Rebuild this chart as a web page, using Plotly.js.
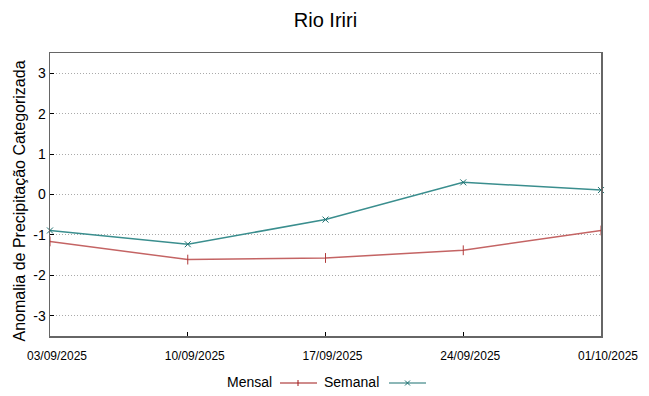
<!DOCTYPE html>
<html><head><meta charset="utf-8">
<script src="https://cdn.plot.ly/plotly-3.0.1.min.js"></script>
<style>html,body{margin:0;padding:0;background:#fff}#c{width:649px;height:396px}</style>
</head><body><div id="c"></div>
<script>
const dates = ['2025-09-03','2025-09-10','2025-09-17','2025-09-24','2025-10-01'];
const tickLabels = ['03/09/2025','10/09/2025','17/09/2025','24/09/2025','01/10/2025'];
const mensal = [-1.16,-1.61,-1.57,-1.38,-0.89];
const semanal = [-0.89,-1.23,-0.62,0.30,0.11];
const yTicks = [-3,-2,-1,0,1,2,3];
const yTickLabels = ['-3','-2','-1','0','1','2','3'];

const redC = '#c46464', tealC = '#3a8e8e';
const traces = [
  {x:dates,y:mensal,name:'Mensal',type:'scatter',mode:'lines+markers',
   line:{color:redC,width:1.5},marker:{symbol:'line-ns-open',size:7,color:'#b03a3a',line:{width:1,color:'#b03a3a'}},cliponaxis:false},
  {x:dates,y:semanal,name:'Semanal',type:'scatter',mode:'lines+markers',
   line:{color:tealC,width:1.5},marker:{symbol:'x-thin-open',size:6,color:'#1f7070',line:{width:1,color:'#1f7070'}},cliponaxis:false}
];
const font = 'Liberation Sans, Arial, sans-serif';
const layout = {
  width:649,height:396,
  margin:{l:50,r:48,t:53,b:60},
  paper_bgcolor:'#fff',plot_bgcolor:'#fff',
  showlegend:false,
  title:{text:'Rio Iriri',x:0.5015,xanchor:'center',y:0.95,yanchor:'middle',font:{family:font,size:20,color:'#000'}},
  xaxis:{type:'date',range:[dates[0],dates[dates.length-1]],tickvals:dates,ticktext:tickLabels,
    showgrid:false,zeroline:false,showline:true,linecolor:'#666',linewidth:1.5,mirror:true,
    ticks:'inside',ticklen:4,tickcolor:'#000',ticklabelstandoff:8,ticklabelshift:7,
    tickfont:{family:font,size:12,color:'#000'}},
  yaxis:{range:[-3.5,3.5],tickvals:yTicks,ticktext:yTickLabels,showgrid:true,gridcolor:'#aaa',griddash:'1px,2px',gridwidth:1,
    zeroline:false,showline:true,linecolor:'#666',linewidth:1.5,mirror:true,
    ticks:'inside',ticklen:4,tickcolor:'#000',
    tickfont:{family:font,size:14,color:'#000'}},
  annotations:[
    {xref:'paper',yref:'paper',x:(19-50)/551,y:(336-201.5)/283,xanchor:'center',yanchor:'middle',textangle:-90,
     text:'Anomalia de Precipitação Categorizada',showarrow:false,font:{family:font,size:16,color:'#000'}},
    {xref:'paper',yref:'paper',x:(274-50)/551,y:-(382-336)/283,xanchor:'right',yanchor:'middle',text:'Mensal',showarrow:false,font:{family:font,size:14,color:'#000'}},
    {xref:'paper',yref:'paper',x:(381-50)/551,y:-(382-336)/283,xanchor:'right',yanchor:'middle',text:'Semanal',showarrow:false,font:{family:font,size:14,color:'#000'}}
  ],
  shapes:[
    {type:'line',xref:'paper',yref:'paper',x0:(280-50)/551,x1:(317-50)/551,y0:-(383-336)/283,y1:-(383-336)/283,line:{color:'#a01818',width:1.2}},
    {type:'line',xref:'paper',yref:'paper',x0:(298-50)/551,x1:(298-50)/551,y0:-(380-336)/283,y1:-(386-336)/283,line:{color:'#a01818',width:1}},
    {type:'line',xref:'paper',yref:'paper',x0:(389-50)/551,x1:(426-50)/551,y0:-(383-336)/283,y1:-(383-336)/283,line:{color:'#1a7070',width:1.2}},
    {type:'line',xref:'paper',yref:'paper',x0:(405-50)/551,x1:(410-50)/551,y0:-(380.5-336)/283,y1:-(385.5-336)/283,line:{color:'#1a7070',width:1}},
    {type:'line',xref:'paper',yref:'paper',x0:(405-50)/551,x1:(410-50)/551,y0:-(385.5-336)/283,y1:-(380.5-336)/283,line:{color:'#1a7070',width:1}}
  ]
};
Plotly.newPlot('c',traces,layout,{displayModeBar:false,staticPlot:true});
</script></body></html>
